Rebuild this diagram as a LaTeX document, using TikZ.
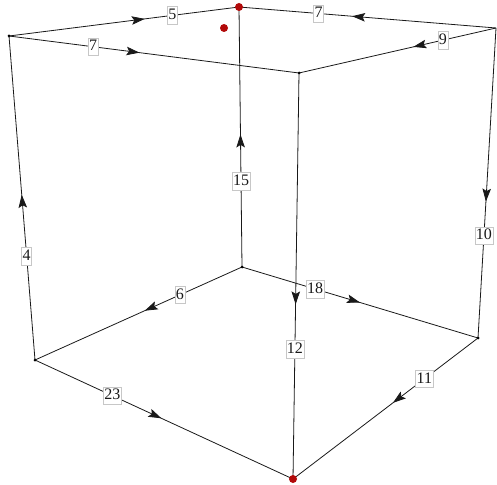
\documentclass[tikz,border=0pt]{standalone}
\usepackage{fontspec}
\setmainfont{Liberation Serif}
\usetikzlibrary{arrows.meta,decorations.markings}
\definecolor{dotred}{RGB}{178,10,10}
\tikzset{
  vtx/.style={circle,fill=black,inner sep=0pt,minimum size=3pt},
  rvtx/.style={circle,fill=dotred,inner sep=0pt,minimum size=8pt},
  lbl/.style={fill=white,draw=black!22,line width=0.4pt,inner xsep=1pt,inner ysep=1.5pt,text height=11.5pt,text depth=3pt,font=\fontsize{16}{17}\selectfont},
  edge/.style={line width=0.8pt,black!90},
  mid/.style={postaction={decorate},decoration={markings,mark=at position #1 with {\arrow{Stealth[length=13pt,width=8.5pt,inset=2.5pt]}}}}
}
\begin{document}
\begin{tikzpicture}[x=1pt,y=-1pt]
\useasboundingbox (0,0) rectangle (497,484);
\coordinate (A) at (9,36);
\coordinate (B) at (239,7);
\coordinate (C) at (496,28);
\coordinate (D) at (299,73);
\coordinate (E) at (242,267);
\coordinate (F) at (35,360);
\coordinate (G) at (478,338);
\coordinate (H) at (293,479);
% edges
\draw[edge,mid=0.59] (A) -- node[lbl,pos=0.71]{5} (B);
\draw[edge,mid=0.56] (C) -- node[lbl,pos=0.69]{7} (B);
\draw[edge,mid=0.45] (A) -- node[lbl,pos=0.29]{7} (D);
\draw[edge,mid=0.42] (C) -- node[lbl,pos=0.27]{9} (D);
\draw[edge,mid=0.51] (E) -- node[lbl,pos=0.33]{15} (B);
\draw[edge,mid=0.56] (C) -- node[lbl,pos=0.67]{10} (G);
\draw[edge,mid=0.51] (F) -- node[lbl,pos=0.32]{4} (A);
\draw[edge,mid=0.47] (E) -- node[lbl,pos=0.30]{6} (F);
\draw[edge,mid=0.50] (E) -- node[lbl,pos=0.31]{18} (G);
\draw[edge,mid=0.57] (D) -- node[lbl,pos=0.68]{12} (H);
\draw[edge,mid=0.49] (F) -- node[lbl,pos=0.30]{23} (H);
\draw[edge,mid=0.46] (G) -- node[lbl,pos=0.29]{11} (H);
% vertices
\node[vtx] (nA) at (A) {};
\node[rvtx] (nB) at (B) {};
\node[vtx] (nD) at (D) {};
\node[vtx] (nE) at (E) {};
\node[vtx] (nF) at (F) {};
\node[vtx] (nG) at (G) {};
\node[rvtx] (nH) at (H) {};
\node[rvtx] (nX) at (224,28) {};
\end{tikzpicture}
\end{document}
